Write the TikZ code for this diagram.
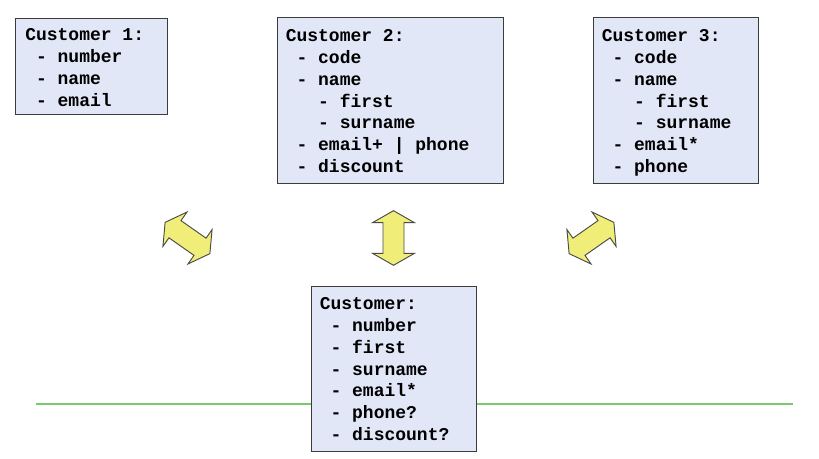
\documentclass[tikz,border=0pt]{standalone}
\usepackage{fontspec}
\setmonofont{Liberation Mono}
\definecolor{boxfill}{HTML}{E1E7F7}
\definecolor{boxline}{HTML}{3C3C3C}
\definecolor{arrowfill}{HTML}{F0EE78}
\definecolor{arrowline}{HTML}{4A4A4A}
\definecolor{greenline}{HTML}{78C86E}
\begin{document}
\begin{tikzpicture}[x=0.75pt,y=-0.75pt,
  custbox/.style={draw=boxline, fill=boxfill, line width=0.8pt, rectangle, inner sep=0pt, anchor=north west},
  custtext/.style={inner sep=0pt, anchor=north west, align=left,
    font=\ttfamily\bfseries\fontsize{13.5pt}{16.45pt}\selectfont},
  dblarrow/.style={draw=arrowline, fill=arrowfill, line width=0.7pt, line join=miter}]
\useasboundingbox[fill=white] (0,0) rectangle (819,459);
\newcommand{\fl}{\rule{0pt}{11pt}}
% green line
\coordinate (gl) at (36,404);
\coordinate (gr) at (792.5,404);
\draw[greenline, line width=1.1pt] (gl) -- (gr);
% boxes
\node[custbox, minimum width=114pt, minimum height=72pt] (c1) at (15,18) {};
\node[custtext] (c1t) at (25,{40-14.667}) {\fl Customer 1:\\~- number\\~- name\\~- email};
\node[custbox, minimum width=169.5pt, minimum height=124.5pt] (c2) at (277,17) {};
\node[custtext] (c2t) at (285.5,{41-14.667}) {\fl Customer 2:\\~- code\\~- name\\~~~- first\\~~~- surname\\~- email+ | phone\\~- discount};
\node[custbox, minimum width=123.75pt, minimum height=124.5pt] (c3) at (593,17) {};
\node[custtext] (c3t) at (601.5,{41-14.667}) {\fl Customer 3:\\~- code\\~- name\\~~~- first\\~~~- surname\\~- email*\\~- phone};
\node[custbox, minimum width=123.75pt, minimum height=123.75pt] (cm) at (311,286) {};
\node[custtext] (cmt) at (319.5,{309-14.667}) {\fl Customer:\\~- number\\~- first\\~- surname\\~- email*\\~- phone?\\~- discount?};
% arrows
\foreach \cx/\ang in {187.5/55, 393.5/0, 591.5/-55}{
  \begin{scope}[shift={(\cx,238)}, rotate=\ang]
    \draw[dblarrow] (0,-27.3) -- (21,-15.3) -- (10.5,-15.3) -- (10.5,15.3) -- (21,15.3) -- (0,27.3)
      -- (-21,15.3) -- (-10.5,15.3) -- (-10.5,-15.3) -- (-21,-15.3) -- cycle;
  \end{scope}
}
\end{tikzpicture}
\end{document}
